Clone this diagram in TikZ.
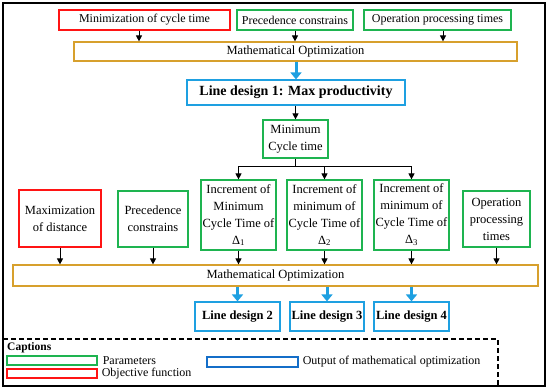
\documentclass[tikz,border=0pt]{standalone}
\usepackage{fontspec}
\setmainfont{Liberation Serif}
\usetikzlibrary{arrows.meta,calc}
\definecolor{cred}{RGB}{255,20,20}
\definecolor{cgreen}{RGB}{30,180,80}
\definecolor{corange}{RGB}{215,160,45}
\definecolor{cblue}{RGB}{30,160,225}
\definecolor{cdblue}{RGB}{20,110,200}
\tikzset{
  bx/.style={draw=#1, line width=1.2pt, inner sep=1pt, align=center, font=\fontsize{12.5}{17}\selectfont},
  arr/.style={line width=0.9pt, -{Triangle[length=6pt,width=6pt]}},
  barr/.style={draw=cblue, line width=3pt, -{Triangle[length=7pt,width=11pt]}},
  ld/.style={bx=cblue, font=\fontsize{12.5}{14}\selectfont\bfseries},
  captext/.style={anchor=west, font=\fontsize{12}{13}\selectfont, inner sep=0pt},
  keybox/.style={draw=#1, line width=1.2pt, minimum width=90pt, minimum height=9pt, inner sep=0pt},
}
\begin{document}
\begin{tikzpicture}[x=1pt,y=-1pt]
\useasboundingbox (0,0) rectangle (550,391);
\draw[line width=1.2pt] (3,3) rectangle (545,386);
% top row
\node[bx=cred, minimum width=171pt, minimum height=20pt, font=\fontsize{12}{14}\selectfont] (minc) at (144.5,20) {Minimization of cycle time};
\node[bx=cgreen, minimum width=116pt, minimum height=20pt, font=\fontsize{12}{14}\selectfont] (prec1) at (295,20) {Precedence constrains};
\node[bx=cgreen, minimum width=147pt, minimum height=20pt, font=\fontsize{12}{14}\selectfont] (oper1) at (437.5,20) {Operation processing times};
\node[bx=corange, minimum width=443pt, minimum height=19pt] (mo1) at (295.5,51.5) {Mathematical Optimization};
\draw[arr] ([xshift=-5.5pt]minc.south) -- ([xshift=-5.5pt]minc.south |- mo1.north);
\draw[arr] (prec1.south) -- (prec1.south |- mo1.north);
\draw[arr] ([xshift=5.5pt]oper1.south) -- ([xshift=5.5pt]oper1.south |- mo1.north);
\node[ld, minimum width=218pt, minimum height=25pt, font=\fontsize{14}{16}\selectfont\bfseries] (ld1) at (296,92.5) {Line design 1: Max productivity};
\draw[barr] (ld1.north |- mo1.south) -- (ld1.north);
\node[bx=cgreen, minimum width=65pt, minimum height=38pt] (minct) at (295.5,139) {Minimum\\Cycle time};
\draw[arr] (minct.north |- ld1.south) -- (minct.north);
% increments
\node[bx=cgreen, minimum width=75pt, minimum height=70pt] (inc1) at (238.5,215) {Increment of\\Minimum\\Cycle Time of\\Δ\textsubscript{1}};
\node[bx=cgreen, minimum width=75pt, minimum height=70pt] (inc2) at (324.5,215) {Increment of\\minimum of\\Cycle Time of\\Δ\textsubscript{2}};
\node[bx=cgreen, minimum width=75pt, minimum height=70pt] (inc3) at (411.5,215) {Increment of\\minimum of\\Cycle Time of\\Δ\textsubscript{3}};
\coordinate (j) at (295.5,166);
\draw[line width=0.9pt] (minct.south) -- (j);
\draw[arr] (j) -| (inc1.north);
\draw[arr] (j) -| (inc2.north);
\draw[arr] (j) -| (inc3.north);
\node[bx=cred, minimum width=82pt, minimum height=57pt] (maxd) at (60,218.5) {Maximization\\of distance};
\node[bx=cgreen, minimum width=70pt, minimum height=56pt] (prec2) at (153,219) {Precedence\\constrains};
\node[bx=cgreen, minimum width=67pt, minimum height=56pt] (oper2) at (496.5,219) {Operation\\processing\\times};
\node[bx=corange, minimum width=525pt, minimum height=21pt] (mo2) at (275.5,275.5) {Mathematical Optimization};
\foreach \n in {maxd,prec2,inc1,inc2,inc3,oper2}
  \draw[arr] (\n.south) -- (\n.south |- mo2.north);
\node[ld, minimum width=85pt, minimum height=29pt] (ld2) at (237.5,316.5) {Line design 2};
\node[ld, minimum width=74pt, minimum height=29pt] (ld3) at (327,316.5) {Line design 3};
\node[ld, minimum width=75pt, minimum height=29pt] (ld4) at (411.5,316.5) {Line design 4};
\foreach \n in {ld2,ld3,ld4}
  \draw[barr] (\n.north |- mo2.south) -- (\n.north);
% captions
\draw[line width=1.2pt, dash pattern=on 5pt off 3pt] (3,339) -- (498,339) -- (498,386);
\node[anchor=west, font=\fontsize{11.5}{12}\selectfont\bfseries, inner sep=0pt] (captitle) at (7,347.5) {Captions};
\node[keybox=cgreen] (kg) at (52,360.5) {};
\node[keybox=cred] (kr) at (52,373.5) {};
\node[keybox=cdblue, minimum width=91pt, minimum height=10pt] (kb) at (252.5,362) {};
\node[captext] (tg) at ([xshift=5pt]kg.east) {Parameters};
\node[captext] (tr) at ([xshift=4pt]kr.east) {Objective function};
\node[captext] (tb) at ([xshift=4pt]kb.east) {Output of mathematical optimization};
\end{tikzpicture}
\end{document}
